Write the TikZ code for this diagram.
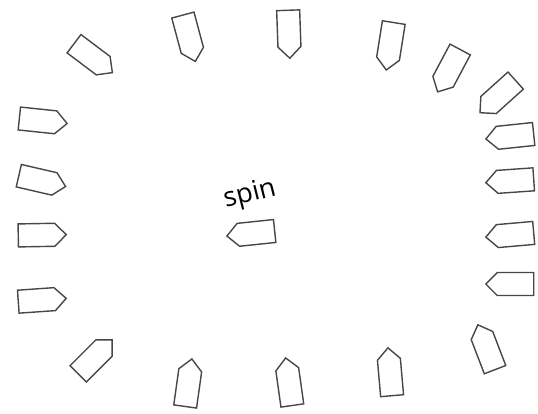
\documentclass[tikz,border=0pt]{standalone}
\usepackage{fontspec}
\setmainfont{Open Sans}
\usetikzlibrary{shapes.symbols}

\begin{document}
\begin{tikzpicture}[
x=1pt, y=-1pt,
tag/.style={signal, signal to=east, signal pointer angle=90, draw=black!72, line width=1.4pt, fill=white, minimum width=48pt, minimum height=23pt, inner sep=0pt},
caption/.style={font=\fontsize{27}{30}\selectfont}
]
\useasboundingbox (0,0) rectangle (538,413);

% left column
\node (left1) [tag, rotate=-6] at (37.5,120.4) {};
\node (left2) [tag, rotate=-13] at (36.6,179.8) {};
\node (left3) [tag, rotate=1] at (36.5,235.1) {};
\node (left4) [tag, rotate=4] at (36.5,300.4) {};

% bottom row
\node (bot1) [tag, rotate=45] at (91.1,360.9) {};
\node (bot2) [tag, rotate=82] at (187.7,388.4) {};
\node (bot3) [tag, rotate=98] at (289.8,387.4) {};
\node (bot4) [tag, rotate=95] at (390.5,377.5) {};
\node (bot5) [tag, rotate=111] at (488.5,352.6) {};

% right column
\node (right1) [tag, rotate=180] at (515.5,284) {};
\node (right2) [tag, rotate=185] at (515.5,234.5) {};
\node (right3) [tag, rotate=184] at (515.5,180.6) {};
\node (right4) [tag, rotate=186] at (515.5,135.9) {};

% top row
\node (top1) [tag, rotate=222] at (502.1,92.8) {};
\node (top2) [tag, rotate=242] at (451.6,65.6) {};
\node (top3) [tag, rotate=261] at (390.9,40.6) {};
\node (top4) [tag, rotate=272] at (288.8,28.5) {};
\node (top5) [tag, rotate=285] at (187.6,32.7) {};
\node (top6) [tag, rotate=-37] at (88.6,54.7) {};

% centre
\node (hub) [tag, rotate=186] at (256.5,232.9) {};
\node (spin) [caption, rotate=14] at (250,195) {spin};

\end{tikzpicture}
\end{document}
